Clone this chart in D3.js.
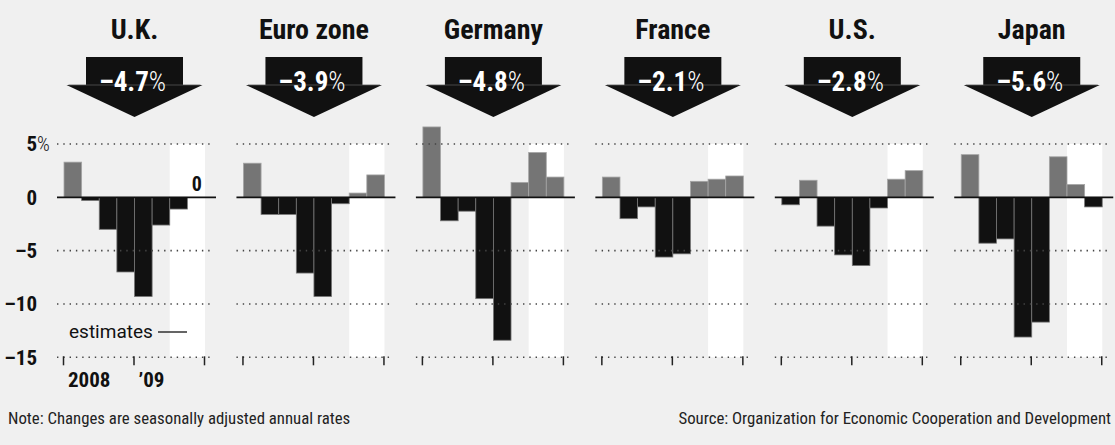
<!DOCTYPE html>
<html>
<head>
<meta charset="utf-8">
<script src="https://cdn.jsdelivr.net/npm/d3@7"></script>
<style>
  html, body { margin: 0; padding: 0; background: #f0f0f0; }
  svg { display: block; }
  .cond { font-family: Roboto, "DejaVu Sans Condensed", sans-serif; font-stretch: condensed; }
  .reg { font-family: Roboto, "DejaVu Sans", sans-serif; }
</style>
</head>
<body>
<svg id="chart" width="1115" height="445"></svg>
<script>
// Quarterly GDP change, seasonally adjusted annual rates (%), 2008 Q1 - 2009 Q4
const countries = ["U.K.", "Euro zone", "Germany", "France", "U.S.", "Japan"];
const headlineChange = [-4.7, -3.9, -4.8, -2.1, -2.8, -5.6];
const quarters = ["2008Q1", "2008Q2", "2008Q3", "2008Q4", "2009Q1", "2009Q2", "2009Q3", "2009Q4"];
const estimateQuarters = ["2009Q3", "2009Q4"];

const ukValues      = [3.3, -0.3, -3.0, -7.0, -9.3, -2.6, -1.1, 0];
const euroValues    = [3.2, -1.6, -1.6, -7.1, -9.3, -0.6, 0.4, 2.1];
const germanyValues = [6.6, -2.2, -1.3, -9.5, -13.4, 1.4, 4.2, 1.9];
const franceValues  = [1.9, -2.0, -0.9, -5.6, -5.3, 1.5, 1.7, 2.0];
const usValues      = [-0.7, 1.6, -2.7, -5.4, -6.4, -1.0, 1.7, 2.5];
const japanValues   = [4.0, -4.3, -3.9, -13.1, -11.7, 3.8, 1.2, -0.9];

const yTicks = [5, 0, -5, -10, -15];
const yearLabels = [{ q: "2008Q1", text: "2008" }, { q: "2009Q1", text: "\u201909" }];

const seriesByCountry = [ukValues, euroValues, germanyValues, franceValues, usValues, japanValues];

const svg = d3.select("#chart");

const y = d3.scaleLinear().domain([-15, 5]).range([357.3, 144]);
const panelStart = 64, panelStep = 179.45, panelWidth = 141;

const dash = v => (v < 0 ? "\u2013" : "") + Math.abs(v);

countries.forEach((name, i) => {
  const x0 = panelStart + i * panelStep;
  const x = d3.scaleBand().domain(quarters).range([x0, x0 + panelWidth]).padding(0);
  const cx = x0 + panelWidth / 2;
  const g = svg.append("g");
  const values = seriesByCountry[i];

  // title
  g.append("text").attr("class", "cond")
    .attr("x", cx).attr("y", 39).attr("text-anchor", "middle")
    .attr("font-size", 28).attr("font-weight", "bold").attr("fill", "#111")
    .text(name);

  // down arrow with headline change
  g.append("rect").attr("x", cx - 48.5).attr("y", 57).attr("width", 97).attr("height", 28).attr("fill", "#111");
  g.append("path")
    .attr("d", `M${cx - 68},85 L${cx + 68},85 L${cx},117 Z`).attr("fill", "#111");
  g.append("line").attr("x1", cx - 66).attr("x2", cx + 66).attr("y1", 85).attr("y2", 85)
    .attr("stroke", "#555").attr("stroke-width", 0.8);
  const lbl = g.append("text").attr("class", "cond")
    .attr("x", cx - 2).attr("y", 90.5).attr("text-anchor", "middle")
    .attr("fill", "#fff").attr("font-size", 27);
  lbl.append("tspan").attr("font-weight", "bold").text(dash(headlineChange[i]));
  lbl.append("tspan").attr("font-weight", 300).text("%");

  // estimate shading
  const ex = x(estimateQuarters[0]);
  g.append("rect")
    .attr("x", ex).attr("y", y(5))
    .attr("width", x.range()[1] - ex).attr("height", y(-15) - y(5))
    .attr("fill", "#fff");

  // bars
  g.selectAll("rect.bar").data(values).join("rect")
    .attr("class", "bar")
    .attr("x", (d, k) => x(quarters[k]))
    .attr("width", x.bandwidth())
    .attr("y", d => y(Math.max(0, d)))
    .attr("height", d => Math.abs(y(d) - y(0)))
    .attr("fill", d => d >= 0 ? "#757575" : "#111")
    .attr("stroke", d => d >= 0 ? "#a5a5a5" : "#777")
    .attr("stroke-width", 0.8);

  // dotted gridlines
  g.selectAll("line.grid").data(yTicks.filter(t => t !== 0)).join("line")
    .attr("class", "grid")
    .attr("x1", x0 - 7).attr("x2", x0 + panelWidth + 8)
    .attr("y1", d => y(d)).attr("y2", d => y(d))
    .attr("stroke", "#444").attr("stroke-width", 1.6)
    .attr("stroke-dasharray", "1.4,4.9");

  // zero line
  g.append("line")
    .attr("x1", x0 - 7).attr("x2", x0 + panelWidth + 11)
    .attr("y1", y(0)).attr("y2", y(0))
    .attr("stroke", "#111").attr("stroke-width", 1.8);

  // quarter-boundary ticks
  const tickPos = [x("2008Q1"), x("2009Q1"), x.range()[1]];
  g.selectAll("line.tick").data(tickPos).join("line")
    .attr("class", "tick")
    .attr("x1", d => d - 0.5).attr("x2", d => d - 0.5)
    .attr("y1", y(-15) - 1).attr("y2", y(-15) + 8)
    .attr("stroke", "#222").attr("stroke-width", 1.5);

  if (i === 0) {
    // year labels
    g.selectAll("text.year").data(yearLabels).join("text")
      .attr("class", "year cond")
      .attr("x", d => x(d.q) + 4).attr("y", 386.5)
      .attr("font-size", 21).attr("font-weight", "bold").attr("fill", "#111")
      .text(d => d.text);

    // value label for zero quarter
    const last = quarters[quarters.length - 1];
    g.append("text").attr("class", "cond")
      .attr("x", x(last) + x.bandwidth() / 2 + 0.5).attr("y", y(values[7]) - 6)
      .attr("text-anchor", "middle").attr("font-size", 20).attr("font-weight", "bold").attr("fill", "#111")
      .text(values[7]);

    // estimates key
    g.append("text").attr("class", "reg")
      .attr("x", 69).attr("y", 338)
      .attr("font-size", 19).attr("fill", "#111")
      .text("estimates");
    g.append("line").attr("x1", 158).attr("x2", 187).attr("y1", 332).attr("y2", 332)
      .attr("stroke", "#111").attr("stroke-width", 1.3);
  }
});

// y axis
const yAxis = d3.axisLeft(y).tickValues(yTicks).tickSize(0).tickPadding(0)
  .tickFormat(d => d < 0 ? "\u2013" + Math.abs(d) : String(d));
const ya = svg.append("g").attr("transform", "translate(37,0)").call(yAxis);
ya.select(".domain").remove();
ya.selectAll("text")
  .attr("class", "cond")
  .attr("font-size", 21).attr("font-weight", "bold").attr("fill", "#111");
ya.selectAll(".tick").filter(d => d === 5).append("text")
  .attr("class", "cond").attr("x", 0).attr("dy", "0.32em")
  .attr("font-size", 20).attr("font-weight", 300).attr("fill", "#111").attr("text-anchor", "start")
  .text("%");

// footnotes
svg.append("text").attr("class", "cond")
  .attr("x", 8).attr("y", 424).attr("font-size", 16.8).attr("fill", "#222")
  .text("Note: Changes are seasonally adjusted annual rates");
svg.append("text").attr("class", "cond")
  .attr("x", 1111).attr("y", 424).attr("text-anchor", "end").attr("font-size", 16.8).attr("fill", "#222")
  .text("Source: Organization for Economic Cooperation and Development");
</script>
</body>
</html>
